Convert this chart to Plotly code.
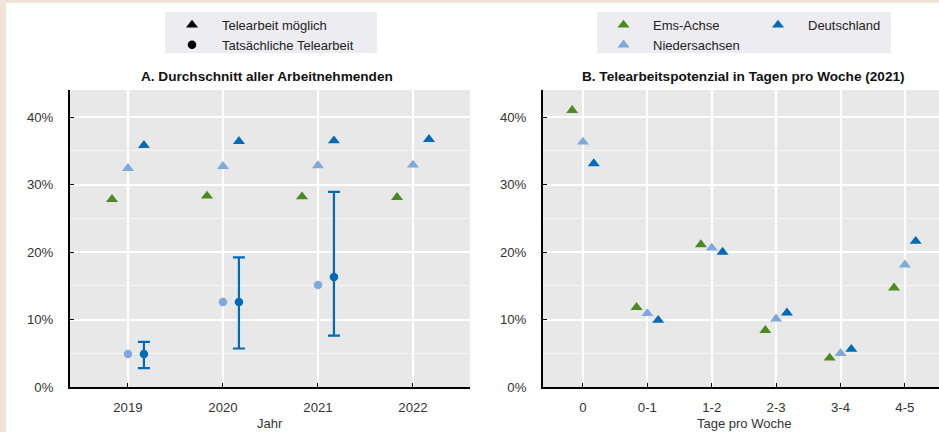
import plotly.graph_objects as go

# ---------------- data ----------------
years = ["2019", "2020", "2021", "2022"]
# Panel A: Telearbeit möglich (share of employees)
possible_ems = [0.278, 0.283, 0.282, 0.281]
possible_nds = [0.324, 0.327, 0.328, 0.329]
possible_de = [0.358, 0.364, 0.365, 0.367]
# Panel A: Tatsächliche Telearbeit
actual_nds = [0.049, 0.126, 0.151, None]
actual_de = [0.049, 0.126, 0.163, None]
actual_de_upper = [0.067, 0.192, 0.289, None]
actual_de_lower = [0.028, 0.057, 0.076, None]

# Panel B: Telearbeitspotenzial in Tagen pro Woche (2021)
days = ["0", "0-1", "1-2", "2-3", "3-4", "4-5"]
days_ems = [0.410, 0.118, 0.211, 0.084, 0.043, 0.147]
days_nds = [0.363, 0.109, 0.206, 0.101, 0.050, 0.181]
days_de = [0.331, 0.099, 0.200, 0.110, 0.056, 0.216]

# ---------------- style ----------------
W, H = 939, 440          # page size (the photo squeezes height to 432)
REF_W, REF_H = 939, 432  # reference pixel grid used for layout positions
GREEN = "#4B8A1C"
LIGHT = "#7FA8DC"
DARK = "#006BB6"
BG = "#E8E8E8"
BEIGE = "#EFE4D6"
FONT = "Liberation Sans, Arial, sans-serif"
OFF = 0.168  # horizontal dodge of the series within a category


def px_x(p):
    return p / REF_W


def px_y(p):
    return 1 - p / REF_H


fig = go.Figure()

xa = list(range(len(years)))
xb = list(range(len(days)))

tri = dict(symbol="triangle-up", size=10.5)
circ = dict(symbol="circle", size=8.5)

# Panel A triangles
fig.add_trace(go.Scatter(x=[v - OFF for v in xa], y=possible_ems, mode="markers",
                         marker=dict(color=GREEN, **tri), showlegend=False,
                         xaxis="x", yaxis="y", cliponaxis=False))
fig.add_trace(go.Scatter(x=xa, y=possible_nds, mode="markers",
                         marker=dict(color=LIGHT, **tri), showlegend=False,
                         xaxis="x", yaxis="y", cliponaxis=False))
fig.add_trace(go.Scatter(x=[v + OFF for v in xa], y=possible_de, mode="markers",
                         marker=dict(color=DARK, **tri), showlegend=False,
                         xaxis="x", yaxis="y", cliponaxis=False))
# Panel A circles
fig.add_trace(go.Scatter(x=xa, y=actual_nds, mode="markers",
                         marker=dict(color=LIGHT, **circ), showlegend=False,
                         xaxis="x", yaxis="y"))
plus = [None if v is None else u - v for v, u in zip(actual_de, actual_de_upper)]
minus = [None if v is None else v - l for v, l in zip(actual_de, actual_de_lower)]
fig.add_trace(go.Scatter(x=[v + OFF for v in xa], y=actual_de, mode="markers",
                         marker=dict(color=DARK, **circ), showlegend=False,
                         error_y=dict(type="data", array=plus, arrayminus=minus,
                                      color=DARK, thickness=2.2, width=6),
                         xaxis="x", yaxis="y"))

# Legend A dummies
fig.add_trace(go.Scatter(x=[None], y=[None], mode="markers", name="Telearbeit möglich",
                         marker=dict(color="black", symbol="triangle-up", size=10.5),
                         legend="legend", xaxis="x", yaxis="y", legendgroup="a1"))
fig.add_trace(go.Scatter(x=[None], y=[None], mode="markers", name="Tatsächliche Telearbeit",
                         marker=dict(color="black", symbol="circle", size=8.5),
                         legend="legend", xaxis="x", yaxis="y", legendgroup="a2"))

# Panel B triangles
fig.add_trace(go.Scatter(x=[v - OFF for v in xb], y=days_ems, mode="markers", name="Ems-Achse",
                         marker=dict(color=GREEN, **tri), legend="legend2", legendgroup="b1",
                         xaxis="x2", yaxis="y2", cliponaxis=False))
fig.add_trace(go.Scatter(x=xb, y=days_nds, mode="markers", name="Niedersachsen",
                         marker=dict(color=LIGHT, **tri), legend="legend2", legendgroup="b2",
                         xaxis="x2", yaxis="y2", cliponaxis=False))
fig.add_trace(go.Scatter(x=[v + OFF for v in xb], y=days_de, mode="markers", name="Deutschland",
                         marker=dict(color=DARK, **tri), legend="legend3", legendgroup="b3",
                         xaxis="x2", yaxis="y2", cliponaxis=False))

ydom = [px_y(387), px_y(90)]
tickfont = dict(family=FONT, size=13.2, color="#333333")

common_x = dict(showline=True, linecolor="black", linewidth=2, ticks="inside", ticklen=4,
                tickcolor="black", tickwidth=1, showgrid=True, gridcolor="white", gridwidth=1.5,
                zeroline=False, tickfont=tickfont, ticklabelstandoff=7, fixedrange=True)
common_y = dict(showline=True, linecolor="black", linewidth=2, ticks="inside", ticklen=4,
                tickcolor="black", tickwidth=1, showgrid=True, gridcolor="white", gridwidth=1.6,
                zeroline=False, range=[0, 0.44], tickvals=[0, 0.1, 0.2, 0.3, 0.4],
                tickformat=".0%", tickfont=tickfont,
                minor=dict(dtick=0.05, tick0=0, showgrid=True, gridcolor="#F6F6F6", gridwidth=1.2,
                           ticks=""),
                ticklabelstandoff=12, fixedrange=True, domain=ydom)

legfont = dict(family=FONT, size=13, color="#222222")

fig.update_layout(
    width=W, height=H,
    margin=dict(l=0, r=0, t=0, b=0),
    paper_bgcolor="white",
    plot_bgcolor=BG,
    font=dict(family=FONT, size=13, color="#222222"),
    xaxis=dict(domain=[px_x(70), px_x(470)], range=[-0.61, 3.6], tickvals=xa, ticktext=years,
               anchor="y", **common_x),
    yaxis=dict(anchor="x", **common_y),
    xaxis2=dict(domain=[px_x(543), 1.0], range=[-0.621, 5.53], tickvals=xb, ticktext=days,
                anchor="y2", **common_x),
    yaxis2=dict(anchor="x2", **common_y),
    legend=dict(x=px_x(162), y=px_y(10), xanchor="left", yanchor="top",
                bgcolor="rgba(0,0,0,0)", itemwidth=50, tracegroupgap=0, font=legfont),
    legend2=dict(x=px_x(594), y=px_y(10), xanchor="left", yanchor="top",
                 bgcolor="rgba(0,0,0,0)", itemwidth=49, tracegroupgap=0, font=legfont),
    legend3=dict(x=px_x(748), y=px_y(10), xanchor="left", yanchor="top",
                 bgcolor="rgba(0,0,0,0)", itemwidth=50, tracegroupgap=0, font=legfont),
    shapes=[
        # beige frame strips (top and left)
        dict(type="rect", xref="paper", yref="paper", x0=0, x1=1, y0=px_y(3), y1=1,
             fillcolor=BEIGE, line=dict(width=0), layer="below"),
        dict(type="rect", xref="paper", yref="paper", x0=0, x1=px_x(6), y0=0, y1=1,
             fillcolor=BEIGE, line=dict(width=0), layer="below"),
        # legend boxes
        dict(type="rect", xref="paper", yref="paper", x0=px_x(165), x1=px_x(377),
             y0=px_y(53), y1=px_y(12), fillcolor="#EDEDF1", line=dict(width=0), layer="below"),
        dict(type="rect", xref="paper", yref="paper", x0=px_x(597), x1=px_x(891),
             y0=px_y(53), y1=px_y(12), fillcolor="#EDEDF1", line=dict(width=0), layer="below"),
    ],
    annotations=[
        dict(text="<b>A. Durchschnitt aller Arbeitnehmenden</b>", xref="paper", yref="paper",
             x=px_x(267), y=px_y(77), xanchor="center", yanchor="middle", showarrow=False,
             font=dict(family=FONT, size=13.6, color="#111111")),
        dict(text="<b>B. Telearbeitspotenzial in Tagen pro Woche (2021)</b>", xref="paper",
             yref="paper", x=px_x(743), y=px_y(77), xanchor="center", yanchor="middle",
             showarrow=False, font=dict(family=FONT, size=13.6, color="#111111")),
        dict(text="Jahr", xref="paper", yref="paper", x=px_x(270), y=px_y(423),
             xanchor="center", yanchor="middle", showarrow=False,
             font=dict(family=FONT, size=13, color="#333333")),
        dict(text="Tage pro Woche", xref="paper", yref="paper", x=px_x(744), y=px_y(423),
             xanchor="center", yanchor="middle", showarrow=False,
             font=dict(family=FONT, size=13, color="#333333")),
    ],
)

post = """
var de=document.documentElement, b=document.body;
[de,b].forEach(function(e){e.style.margin='0';e.style.padding='0';e.style.overflow='hidden';
  e.style.width='%dpx';e.style.height='%dpx';});
document.querySelectorAll('.plotly-graph-div').forEach(function(g){g.style.overflow='hidden';});
""" % (W, H)

fig.write_html("out.html", config={"displayModeBar": False}, post_script=post)
